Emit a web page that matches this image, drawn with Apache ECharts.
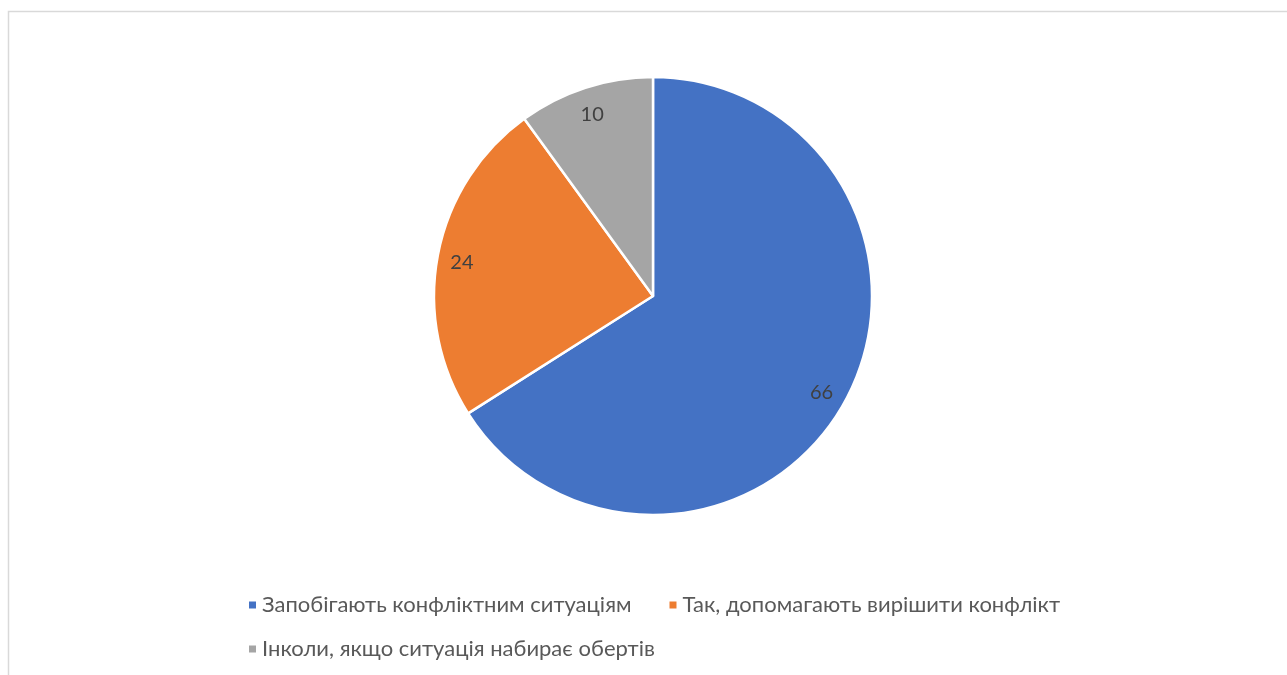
<!DOCTYPE html>
<html><head><meta charset="utf-8">
<script src="https://cdn.jsdelivr.net/npm/echarts@6/dist/echarts.min.js"></script>
<style>html,body{margin:0;padding:0;background:#fff}#c{width:1287px;height:675px}</style>
</head><body><div id="c"></div>
<script>
const categories = ['Запобігають конфліктним ситуаціям', 'Так, допомагають вирішити конфлікт', 'Інколи, якщо ситуація набирає обертів'];
const values = [66, 24, 10];
const colors = ['#4472C4', '#ED7D31', '#A5A5A5'];

const data = categories.map((n, i) => ({ name: n, value: values[i], itemStyle: { color: colors[i] } }));
const font = 'Lato';
const chart = echarts.init(document.getElementById('c'));
chart.setOption({
  animation: false,
  graphic: [{ type: 'rect', shape: { x: 8.5, y: 11.5, width: 1300, height: 700 }, style: { fill: 'none', stroke: '#D9D9D9', lineWidth: 1.5 }, silent: true }],
  legend: [
    { data: categories.slice(0, 2), left: 242, top: 589, itemWidth: 9, itemHeight: 9, itemGap: 36, icon: 'rect',
      textStyle: { fontFamily: font, fontSize: 22, color: '#595959' } },
    { data: categories.slice(2), left: 242, top: 633, itemWidth: 9, itemHeight: 9, icon: 'rect',
      textStyle: { fontFamily: font, fontSize: 22, color: '#595959' } }
  ],
  series: [
    { type: 'pie', center: [653, 296], radius: [0, 219], startAngle: 90, clockwise: true,
      data: data, label: { show: false }, labelLine: { show: false },
      itemStyle: { borderColor: '#fff', borderWidth: 2.5 }, emphasis: { disabled: true } },
    { type: 'pie', center: [653, 296], radius: [162, 219], startAngle: 90, clockwise: true, silent: true,
      data: data.map(d => ({ name: d.name, value: d.value, itemStyle: { color: 'rgba(0,0,0,0)' } })),
      label: { show: true, position: 'inside', formatter: '{c}', fontFamily: font, fontSize: 20, color: '#404040', offset: [-1, 3] },
      labelLine: { show: false }, itemStyle: { borderWidth: 0 }, emphasis: { disabled: true } }
  ]
});
</script></body></html>
